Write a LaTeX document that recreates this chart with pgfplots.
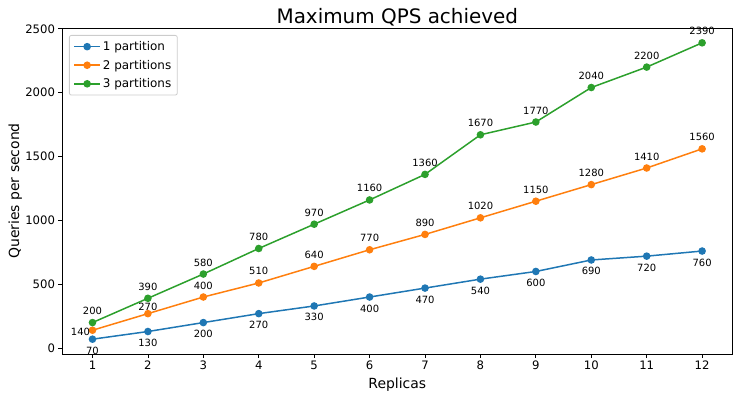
\documentclass[border=0pt]{standalone}
\usepackage{fontspec}
\setmainfont{DejaVu Sans}
\usepackage{pgfplots}
\pgfplotsset{compat=1.18}
\definecolor{c1}{HTML}{1F77B4}
\definecolor{c2}{HTML}{FF7F0E}
\definecolor{c3}{HTML}{2CA02C}
\pgfkeys{/pgf/number format/.cd,1000 sep={}}
\begin{document}
\begin{tikzpicture}[x=1bp,y=1bp]
\useasboundingbox (-62bp,-45bp) rectangle (680bp,354bp);
\begin{axis}[
  at={(0,0)}, anchor=south west, scale only axis,
  width=670.6bp, height=326bp,
  xmin=0.45, xmax=12.55, ymin=-46, ymax=2506,
  xtick={1,...,12}, ytick={0,500,...,2500},
  tick align=outside, major tick length=3.5bp,
  tick style={black, line width=0.8bp},
  axis line style={line width=0.8bp},
  xtick pos=bottom, ytick pos=left,
  /pgf/number format/assume math mode=true,
  tick label style={font=\fontsize{11.7}{14}\selectfont},
  title={Maximum QPS achieved},
  title style={font=\fontsize{20}{23}\selectfont, at={(axis description cs:0.5,1)}, anchor=base, yshift=-1.5bp},
  xlabel={Replicas},
  xlabel style={font=\fontsize{14}{17}\selectfont, at={(axis description cs:0.5,0)}, anchor=base, yshift=-34bp},
  ylabel={Queries per second},
  ylabel style={font=\fontsize{14}{17}\selectfont, at={(axis description cs:-0.0641,0.5)}, anchor=base},
  legend style={font=\fontsize{12}{14}\selectfont, draw=black!20, rounded corners=2bp,
    at={(axis description cs:0,1)}, anchor=north west, xshift=7bp, yshift=-7bp,
    inner xsep=4bp, inner ysep=4bp, row sep=4bp, line width=0.8bp},
  legend cell align=left,
  legend image code/.code={\draw[#1, mark repeat=2, mark phase=2] plot coordinates {(0bp,0bp) (13bp,0bp) (26bp,0bp)};},
  every axis plot/.append style={line width=1.5bp, mark=*, mark size=3bp, mark options={solid}},
  nodes near coords,
  point meta=y,
]
\addplot[c1, mark options={fill=c1, draw=c1},
  every node near coord/.append style={black, font=\fontsize{10}{12}\selectfont, anchor=base, inner sep=0pt, yshift=-15bp}]
  coordinates {(1,70) (2,130) (3,200) (4,270) (5,330) (6,400) (7,470) (8,540) (9,600) (10,690) (11,720) (12,760)};
\addlegendentry{1 partition}
\addplot[c2, mark options={fill=c2, draw=c2},
  every node near coord/.append style={black, font=\fontsize{10}{12}\selectfont, anchor=base, inner sep=0pt, yshift=8bp},
  coordinate style/.condition={x==1}{xshift=-12bp, yshift=-13bp},
  coordinate style/.condition={x==2}{yshift=-5bp}]
  coordinates {(1,140) (2,270) (3,400) (4,510) (5,640) (6,770) (7,890) (8,1020) (9,1150) (10,1280) (11,1410) (12,1560)};
\addlegendentry{2 partitions}
\addplot[c3, mark options={fill=c3, draw=c3},
  every node near coord/.append style={black, font=\fontsize{10}{12}\selectfont, anchor=base, inner sep=0pt, yshift=8bp}]
  coordinates {(1,200) (2,390) (3,580) (4,780) (5,970) (6,1160) (7,1360) (8,1670) (9,1770) (10,2040) (11,2200) (12,2390)};
\addlegendentry{3 partitions}
\end{axis}
\end{tikzpicture}
\end{document}
